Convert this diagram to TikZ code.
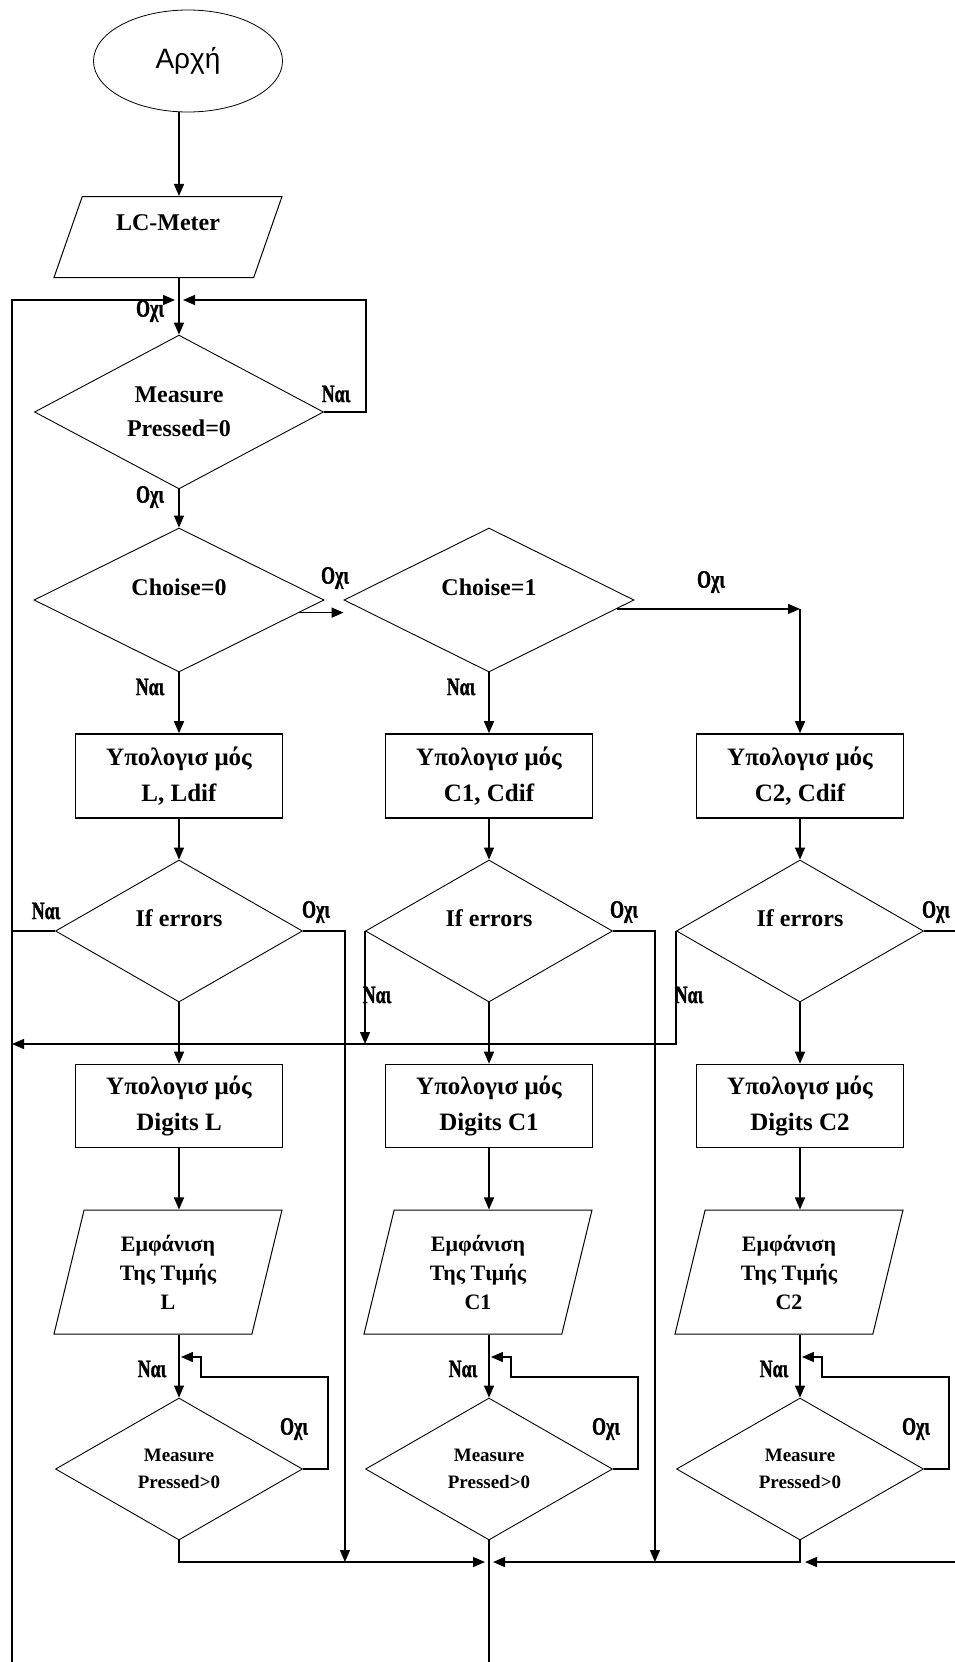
\documentclass[tikz,border=0pt]{standalone}
\usepackage{fontspec}
\setmainfont{Liberation Serif}
\newfontfamily\grsans{Liberation Sans}
\newfontfamily\tallfont{Liberation Serif Bold}[FakeStretch=0.72, FakeBold=1.2]
\usetikzlibrary{arrows.meta,shapes.geometric,calc}

\begin{document}
\begin{tikzpicture}[x=1pt, y=-1pt,
      base/.style={draw=black, align=center, inner sep=2pt, font=\bfseries\fontsize{24}{34}\selectfont},
      term/.style={draw=black, ellipse, line width=0.8pt, minimum width=189pt, minimum height=102pt,
                   font=\grsans\fontsize{28}{32}\selectfont},
      io/.style={base, trapezium, trapezium stretches body, line width=1pt, minimum width=228pt},
      proc/.style={base, rectangle, line width=1.6pt, minimum width=207pt, minimum height=84pt,
                   font=\bfseries\fontsize{25}{36}\selectfont},
      dec/.style={base, diamond, line width=0.9pt, inner sep=0pt},
      small/.style={font=\bfseries\fontsize{19}{27}\selectfont},
      lift/.style={text height=17pt, text depth=#1},
      lbl/.style={font=\tallfont\fontsize{25}{25}\selectfont, inner sep=0pt},
      arr/.style={-{Triangle[length=12pt,width=10pt]}, line width=1.4pt},
      wire/.style={line width=1.4pt}]
    \useasboundingbox (0,0) rectangle (955,1662);
    \fill[white] (0,0) rectangle (955,1662);
    % start and main loop
    \node[term] (start) at (188,61) {Αρχή};
    \node[io, trapezium left angle=61, trapezium right angle=119, minimum height=81pt, lift=30pt] (lcm) at (168,237) {LC-Meter};
    \node[dec, minimum width=289pt, minimum height=140pt] (d0) at (179,412) {Measure\\Pressed=0};
    \node[dec, minimum width=290pt, minimum height=144pt, lift=27pt] (c0) at (179,600) {Choise=0};
    \node[dec, minimum width=290pt, minimum height=144pt, lift=27pt] (c1) at (489,600) {Choise=1};
    % calculation
    \node[proc] (p1) at (179,776) {Υπολογισ μός\\L, Ldif};
    \node[proc] (p2) at (489,776) {Υπολογισ μός\\C1, Cdif};
    \node[proc] (p3) at (800,776) {Υπολογισ μός\\C2, Cdif};
    \node[dec, minimum width=247pt, minimum height=142pt, lift=27pt] (e1) at (179,931) {If errors};
    \node[dec, minimum width=247pt, minimum height=142pt, lift=27pt] (e2) at (489,931) {If errors};
    \node[dec, minimum width=247pt, minimum height=142pt, lift=27pt] (e3) at (800,931) {If errors};
    \node[proc, minimum height=83pt] (g1) at (179,1106) {Υπολογισ μός\\Digits L};
    \node[proc, minimum height=83pt] (g2) at (489,1106) {Υπολογισ μός\\Digits C1};
    \node[proc, minimum height=83pt] (g3) at (800,1106) {Υπολογισ μός\\Digits C2};
    % display
    \node[io, trapezium left angle=69, trapezium right angle=111, minimum height=124pt, font=\bfseries\fontsize{22}{29}\selectfont] (s1) at (168,1272) {Εμφάνιση\\Της Τιμής\\L};
    \node[io, trapezium left angle=69, trapezium right angle=111, minimum height=124pt, font=\bfseries\fontsize{22}{29}\selectfont] (s2) at (478,1272) {Εμφάνιση\\Της Τιμής\\C1};
    \node[io, trapezium left angle=69, trapezium right angle=111, minimum height=124pt, font=\bfseries\fontsize{22}{29}\selectfont] (s3) at (789,1272) {Εμφάνιση\\Της Τιμής\\C2};
    \node[dec, small, minimum width=247pt, minimum height=142pt] (m1) at (179,1469) {Measure\\Pressed>0};
    \node[dec, small, minimum width=247pt, minimum height=142pt] (m2) at (489,1469) {Measure\\Pressed>0};
    \node[dec, small, minimum width=247pt, minimum height=142pt] (m3) at (800,1469) {Measure\\Pressed>0};
    \coordinate (top) at (179,300); \coordinate (ret) at (12,300); \coordinate (retend) at (12,1700);
    \coordinate (back) at (12,1044); \coordinate (mrg) at (489,1562); \coordinate (outend) at (489,1700);
    % connectors
    \draw[arr] (top |- start.south) -- (top |- lcm.north);
    \draw[arr] (top |- lcm.south) -- (d0.north);
    \draw[arr, shorten >=4pt] (retend) -- (ret) -- (top);
    \draw[arr, shorten >=4pt] (d0.east) -- ++(42,0) |- (top);
    \draw[arr] (d0.south) -- (c0.north);
    \draw[arr] (c0.-6) -- (c0.-6 -| c1.west);
    \draw[arr] (c1.-4) -- (c1.-4 -| p3.north); \draw[arr] (c1.-4 -| p3.north) -- (p3.north);
    \draw[arr] (c0.south) -- (p1.north); \draw[arr] (c1.south) -- (p2.north);
    \draw[arr] (p1) -- (e1); \draw[arr] (p2) -- (e2); \draw[arr] (p3) -- (e3);
    \draw[arr] (e1) -- (g1); \draw[arr] (e2) -- (g2); \draw[arr] (e3) -- (g3);
    \draw[arr] (g1.south) -- (g1.south |- s1.north); \draw[arr] (g2.south) -- (g2.south |- s2.north);
    \draw[arr] (g3.south) -- (g3.south |- s3.north);
    \draw[arr] (g1.south |- s1.south) -- (m1.north); \draw[arr] (g2.south |- s2.south) -- (m2.north);
    \draw[arr] (g3.south |- s3.south) -- (m3.north);
    \draw[arr] (m1.east) -- ++(25,0) -- ++(0,-92) -- ++(-127,0) -- ++(0,-20) -- ++(-20,0);
    \draw[arr] (m2.east) -- ++(25,0) -- ++(0,-92) -- ++(-127,0) -- ++(0,-20) -- ++(-20,0);
    \draw[arr] (m3.east) -- ++(25,0) -- ++(0,-92) -- ++(-127,0) -- ++(0,-20) -- ++(-20,0);
    \draw[wire] (e1.west) -- (e1.west -| ret);
    \draw[arr] (e1.east) -- ++(42,0) -- ++(0,631); \draw[arr] (e2.east) -- ++(42,0) -- ++(0,631);
    \draw[arr, shorten >=5pt] (e3.east) -- ++(60,0) |- (m3.south |- mrg);
    \draw[arr] (e2.west) -- (e2.west |- back); \draw[arr] (e3.west) |- (back);
    \draw[arr, shorten >=4pt] (m1.south) |- (mrg); \draw[arr, shorten >=4pt] (m3.south) |- (mrg);
    \draw[wire] (m2.south) -- (outend);
    % answers
    \node[lbl] (no0) at (150,311) {Οχι};
    \node[lbl] (yes0) at (336,394) {Ναι};
    \node[lbl] (no1) at (150,497) {Οχι};
    \node[lbl] (no2) at (335,578) {Οχι};
    \node[lbl] (no3) at (711,582) {Οχι};
    \node[lbl] (yes1) at (150,687) {Ναι}; \node[lbl] (yes2) at (461,687) {Ναι};
    \node[lbl] (yes3) at (46,911) {Ναι};
    \node[lbl] (no4) at (316,912) {Οχι}; \node[lbl] (no5) at (624,912) {Οχι}; \node[lbl] (no6) at (936,912) {Οχι};
    \node[lbl] (yes4) at (377,995) {Ναι}; \node[lbl] (yes5) at (689,995) {Ναι};
    \node[lbl] (yes6) at (152,1369) {Ναι}; \node[lbl] (yes7) at (463,1369) {Ναι}; \node[lbl] (yes8) at (774,1369) {Ναι};
    \node[lbl] (no7) at (294,1429) {Οχι}; \node[lbl] (no8) at (606,1429) {Οχι}; \node[lbl] (no9) at (916,1429) {Οχι};
  \end{tikzpicture}
\end{document}
